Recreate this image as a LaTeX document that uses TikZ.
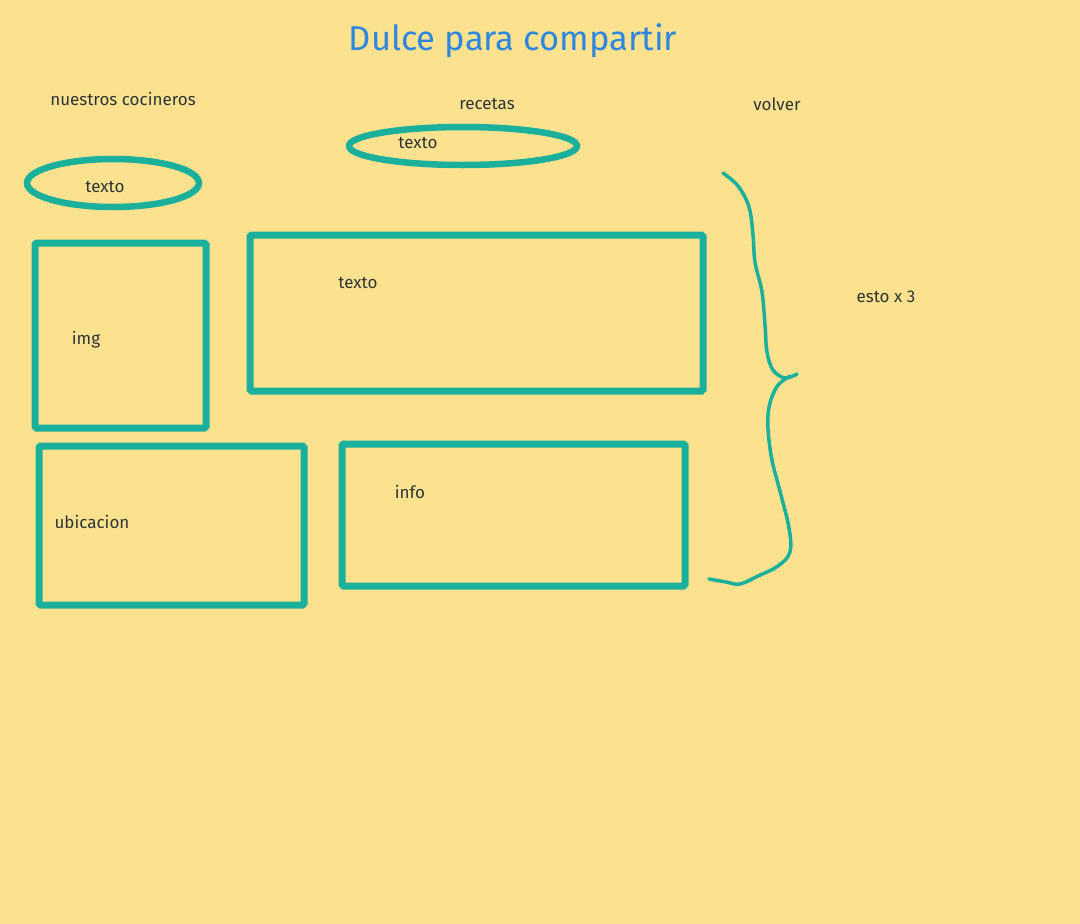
\documentclass[tikz,border=0pt]{standalone}
\usepackage{fontspec}
\setmainfont{Fira Sans}
\definecolor{bg}{RGB}{252,226,143}
\definecolor{teal}{RGB}{26,176,156}
\definecolor{titleblue}{RGB}{46,134,222}
\definecolor{ink}{RGB}{45,52,54}
\begin{document}
\begin{tikzpicture}[x=1pt,y=-1pt,
  lbl/.style={text=ink,font=\fontsize{17}{20}\selectfont,inner sep=0pt},
  boxline/.style={draw=teal,line width=7pt,rounded corners=1.5pt},
  ringline/.style={draw=teal,line width=6.5pt},
  bracel/.style={draw=teal,line width=3.5pt,line cap=round,line join=round}]
\fill[bg] (0,0) rectangle (1080,924);
\useasboundingbox (0,0) rectangle (1080,924);
\node[text=titleblue,font=\fontsize{34.5}{40}\selectfont,inner sep=0pt] (title) at (513,41) {Dulce para compartir};
\node[lbl] (nc) at (123,99) {nuestros cocineros};
\node[lbl] (rec) at (487,104) {recetas};
\node[lbl] (vol) at (777,104) {volver};
\node[lbl] (esto) at (886,297) {esto x 3};
\draw[ringline] (113,183) ellipse [x radius=86, y radius=24];
\draw[ringline] (463,146) ellipse [x radius=114, y radius=19];
\draw[boxline] (35,243) rectangle (206,428);
\draw[boxline] (250,235) rectangle (703,391);
\draw[boxline] (39,446) rectangle (304,605);
\draw[boxline] (342,444) rectangle (685,586);
\node[lbl] (t1) at (105,187) {texto};
\node[lbl] (t2) at (418,143) {texto};
\node[lbl] (t3) at (358,283) {texto};
\node[lbl] (img) at (86,340) {img};
\node[lbl] (ubi) at (92,522) {ubicacion};
\node[lbl] (info) at (410,492) {info};
\draw[bracel] plot[smooth,tension=0.6] coordinates {(723,173) (738,186) (749,207) (753,235) (755,262) (762,292) (765,325) (767,352) (773,370) (785,378) (797,374)};
\draw[bracel] plot[smooth,tension=0.6] coordinates {(790,376) (776,388) (768,415) (771,455) (781,495) (789,528) (790,552) (778,566) (758,576) (740,584) (726,582) (709,579)};
\end{tikzpicture}
\end{document}
